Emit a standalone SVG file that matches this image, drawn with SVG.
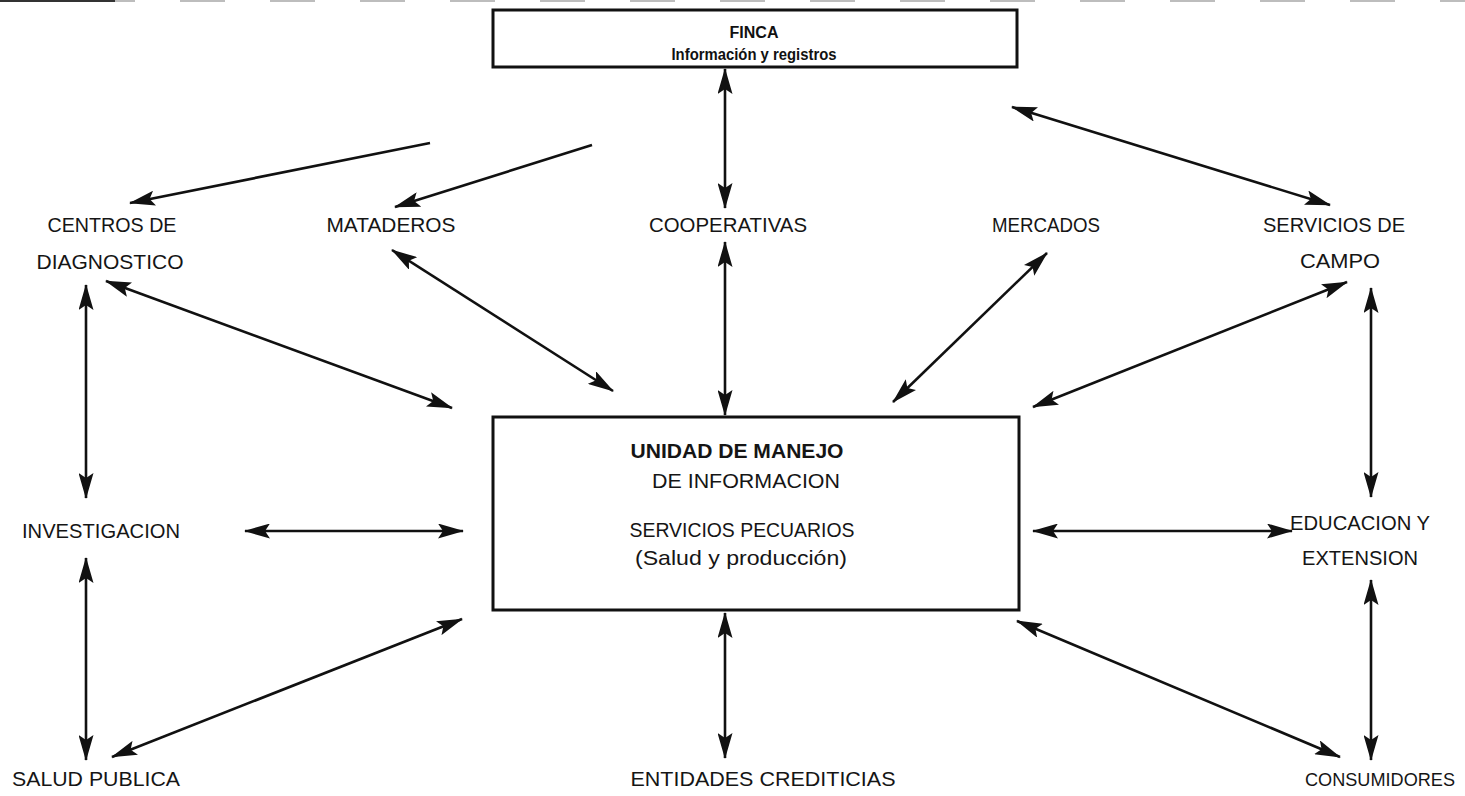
<svg xmlns="http://www.w3.org/2000/svg" width="1465" height="796" viewBox="0 0 1465 796">
  <style>
    .box { fill: #ffffff; stroke: #111111; stroke-width: 3; }
    .lbl { font-family: "Liberation Sans", Arial, sans-serif; font-size: 21px; fill: #151515; text-anchor: middle; }
    .in { font-family: "Liberation Sans", Arial, sans-serif; font-size: 21px; fill: #151515; text-anchor: middle; }
    .hd { font-family: "Liberation Sans", Arial, sans-serif; font-size: 16px; font-weight: bold; fill: #111111; text-anchor: middle; }
    .bold { font-weight: bold; }
    .conn line { stroke: #111111; stroke-width: 2.6; marker-end: url(#head); }
    .conn line.both { marker-start: url(#head); }
    .edge { stroke: #a8a8a8; stroke-width: 1.6; stroke-dasharray: 45 45; }
  </style>
  <defs>
    <marker id="head" viewBox="0 0 26 15" markerWidth="26" markerHeight="15" refX="25" refY="7.5" orient="auto-start-reverse" markerUnits="userSpaceOnUse">
      <path d="M0,0 L26,7.5 L0,15 L5,7.5 z" fill="#111111"/>
    </marker>
  </defs>

  <rect width="1465" height="796" fill="#ffffff"/>
  <line class="edge" x1="0" y1="1" x2="1465" y2="1"/>
  <line x1="0" y1="1" x2="115" y2="1" stroke="#333333" stroke-width="2"/>

  <!-- farm records -->
  <g id="finca">
    <rect class="box" x="493" y="10" width="524" height="57"/>
    <text class="hd" x="754" y="38">FINCA</text>
    <text class="hd" x="754" y="60" textLength="165" lengthAdjust="spacingAndGlyphs">Información y registros</text>
  </g>

  <!-- central information unit -->
  <g id="unidad">
    <rect class="box" x="493" y="417" width="526" height="193"/>
    <text class="in bold" x="737" y="458" textLength="213" lengthAdjust="spacingAndGlyphs">UNIDAD DE MANEJO</text>
    <text class="in" x="746" y="488" textLength="188" lengthAdjust="spacingAndGlyphs">DE INFORMACION</text>
    <text class="in" x="742" y="537" textLength="225" lengthAdjust="spacingAndGlyphs">SERVICIOS PECUARIOS</text>
    <text class="in" x="741" y="565" textLength="212" lengthAdjust="spacingAndGlyphs">(Salud y producción)</text>
  </g>

  <g id="centros">
    <text class="lbl" x="112" y="232" textLength="129" lengthAdjust="spacingAndGlyphs">CENTROS DE</text>
    <text class="lbl" x="110" y="269" textLength="147" lengthAdjust="spacingAndGlyphs">DIAGNOSTICO</text>
  </g>
  <g id="mataderos"><text class="lbl" x="391" y="232" textLength="129" lengthAdjust="spacingAndGlyphs">MATADEROS</text></g>
  <g id="cooperativas"><text class="lbl" x="728" y="232" textLength="158" lengthAdjust="spacingAndGlyphs">COOPERATIVAS</text></g>
  <g id="mercados"><text class="lbl" x="1046" y="232" textLength="108" lengthAdjust="spacingAndGlyphs">MERCADOS</text></g>
  <g id="servicios">
    <text class="lbl" x="1334" y="232" textLength="142" lengthAdjust="spacingAndGlyphs">SERVICIOS DE</text>
    <text class="lbl" x="1340" y="268" textLength="80" lengthAdjust="spacingAndGlyphs">CAMPO</text>
  </g>
  <g id="investigacion"><text class="lbl" x="101" y="538" textLength="158" lengthAdjust="spacingAndGlyphs">INVESTIGACION</text></g>
  <g id="educacion">
    <text class="lbl" x="1360" y="530" textLength="140" lengthAdjust="spacingAndGlyphs">EDUCACION Y</text>
    <text class="lbl" x="1360" y="565" textLength="116" lengthAdjust="spacingAndGlyphs">EXTENSION</text>
  </g>
  <g id="salud"><text class="lbl" x="96" y="786" textLength="168" lengthAdjust="spacingAndGlyphs">SALUD PUBLICA</text></g>
  <g id="entidades"><text class="lbl" x="763" y="786" textLength="265" lengthAdjust="spacingAndGlyphs">ENTIDADES CREDITICIAS</text></g>
  <g id="consumidores"><text class="lbl" x="1380" y="786" style="font-size:19px" textLength="150" lengthAdjust="spacingAndGlyphs">CONSUMIDORES</text></g>

  <g id="connectors" class="conn">
    <!-- from the farm -->
    <line x1="430" y1="143" x2="130" y2="203"/>
    <line x1="592" y1="145" x2="395" y2="207"/>
    <line class="both" x1="725" y1="69" x2="725" y2="208"/>
    <line class="both" x1="1012" y1="107" x2="1330" y2="205"/>
    <!-- to the information unit -->
    <line class="both" x1="106" y1="281" x2="452" y2="408"/>
    <line class="both" x1="392" y1="250" x2="613" y2="391"/>
    <line class="both" x1="725" y1="242" x2="725" y2="415"/>
    <line class="both" x1="1047" y1="253" x2="893" y2="402"/>
    <line class="both" x1="1347" y1="282" x2="1033" y2="407"/>
    <line class="both" x1="245" y1="531" x2="463" y2="531"/>
    <line class="both" x1="1033" y1="531" x2="1292" y2="531"/>
    <line class="both" x1="462" y1="619" x2="112" y2="757"/>
    <line class="both" x1="725" y1="613" x2="725" y2="758"/>
    <line class="both" x1="1017" y1="621" x2="1340" y2="757"/>
    <!-- side columns -->
    <line class="both" x1="86" y1="285" x2="86" y2="498"/>
    <line class="both" x1="86" y1="558" x2="86" y2="760"/>
    <line class="both" x1="1371" y1="288" x2="1371" y2="497"/>
    <line class="both" x1="1371" y1="580" x2="1371" y2="760"/>
  </g>
</svg>
